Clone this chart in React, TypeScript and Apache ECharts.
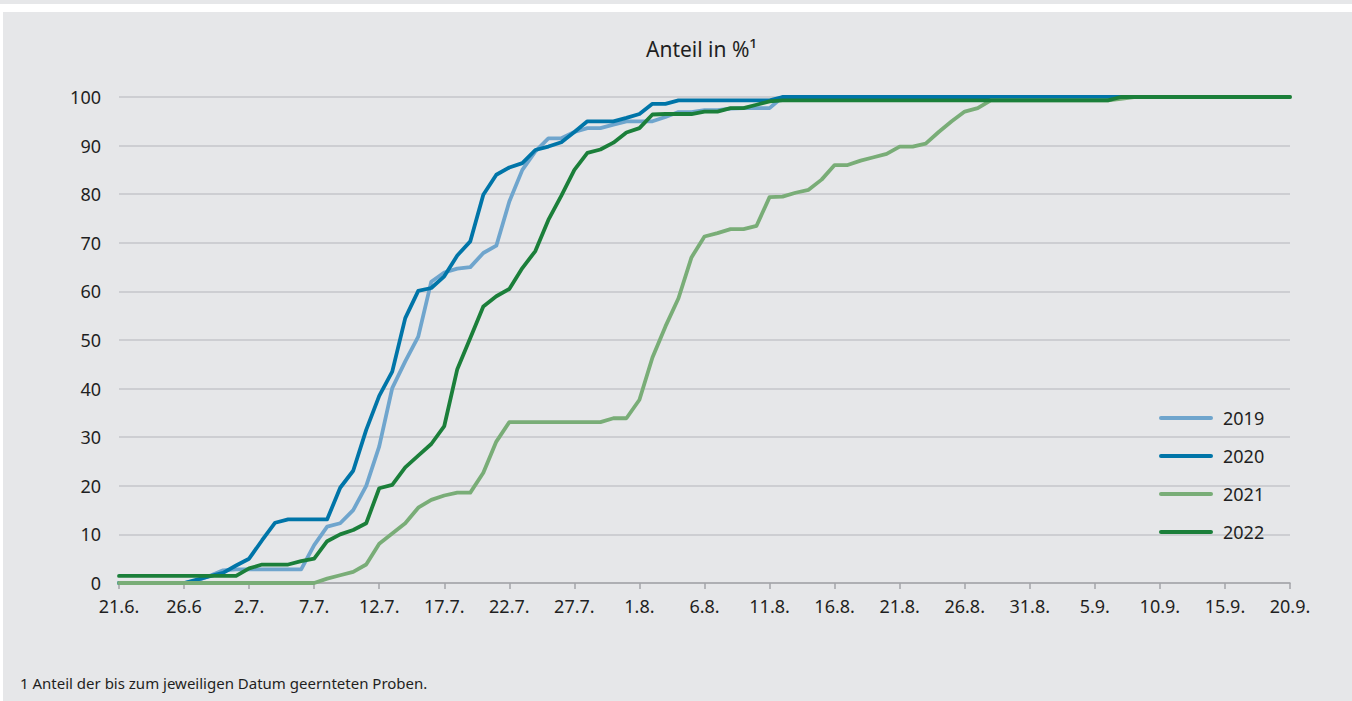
import React, { useEffect, useRef } from "react";
import * as echarts from "echarts";

const xTickLabels = [
  "21.6.", "26.6", "2.7.", "7.7.", "12.7.", "17.7.", "22.7.", "27.7.", "1.8.", "6.8.",
  "11.8.", "16.8.", "21.8.", "26.8.", "31.8.", "5.9.", "10.9.", "15.9.", "20.9.",
];

const seriesNames = ["2019", "2020", "2021", "2022"];

// daily values, index 0 = 21.6.
const y2019 = [
  0, 0, 0, 0, 0, 0, 0.5, 1.5, 2.6, 2.8,
  2.8, 2.8, 2.8, 2.8, 2.8, 7.8, 11.6, 12.3, 15.0, 20.0,
  28.1, 40.1, 45.6, 50.7, 62.0, 63.9, 64.7, 65.0, 67.9, 69.4,
  78.5, 85.0, 88.8, 91.5, 91.5, 92.8, 93.6, 93.6, 94.3, 95.0,
  95.0, 95.0, 95.9, 96.9, 96.9, 97.3, 97.3, 97.6, 97.7, 97.7,
  97.7, 100, 100, 100, 100, 100, 100, 100, 100, 100,
  100, 100, 100, 100, 100, 100, 100, 100, 100, 100,
  100, 100, 100, 100, 100, 100, 100, 100, 100, 100,
  100,
];

const y2020 = [
  0, 0, 0, 0, 0, 0, 0.7, 1.4, 2.1, 3.6,
  5.0, 8.8, 12.4, 13.1, 13.1, 13.1, 13.1, 19.6, 23.1, 31.5,
  38.5, 43.5, 54.5, 60.1, 60.7, 63.1, 67.4, 70.3, 79.9, 84.0,
  85.5, 86.4, 89.1, 89.8, 90.7, 92.8, 95.0, 95.0, 95.0, 95.7,
  96.5, 98.6, 98.6, 99.3, 99.3, 99.3, 99.3, 99.3, 99.3, 99.3,
  99.3, 100, 100, 100, 100, 100, 100, 100, 100, 100,
  100, 100, 100, 100, 100, 100, 100, 100, 100, 100,
  100, 100, 100, 100, 100, 100, 100, 100, 100, 100,
  100,
];

const y2021 = [
  0, 0, 0, 0, 0, 0, 0, 0, 0, 0,
  0, 0, 0, 0, 0, 0, 0.9, 1.6, 2.3, 3.8,
  8.1, 10.2, 12.3, 15.5, 17.1, 18.0, 18.6, 18.6, 22.7, 29.1,
  33.1, 33.1, 33.1, 33.1, 33.1, 33.1, 33.1, 33.1, 33.9, 33.9,
  37.7, 46.4, 52.8, 58.6, 67.0, 71.3, 72.0, 72.8, 72.8, 73.5,
  79.4, 79.5, 80.3, 80.9, 83.0, 86.0, 86.0, 86.9, 87.6, 88.3,
  89.8, 89.8, 90.4, 92.8, 95.0, 97.0, 97.7, 99.3, 99.3, 99.3,
  99.3, 99.3, 99.3, 99.3, 99.3, 99.3, 99.3, 99.6, 100, 100,
  100, 100, 100, 100, 100, 100, 100, 100, 100, 100,
  100,
];

const y2022 = [
  1.45, 1.45, 1.45, 1.45, 1.45, 1.45, 1.45, 1.45, 1.45, 1.45,
  3.0, 3.8, 3.8, 3.8, 4.5, 5.0, 8.6, 10.0, 10.9, 12.3,
  19.5, 20.2, 23.8, 26.2, 28.6, 32.3, 44.0, 50.4, 56.9, 59.0,
  60.5, 64.8, 68.3, 74.7, 79.7, 85.0, 88.5, 89.2, 90.6, 92.7,
  93.6, 96.4, 96.5, 96.5, 96.5, 97.0, 97.0, 97.7, 97.7, 98.4,
  99.1, 99.3, 99.3, 99.3, 99.3, 99.3, 99.3, 99.3, 99.3, 99.3,
  99.3, 99.3, 99.3, 99.3, 99.3, 99.3, 99.3, 99.3, 99.3, 99.3,
  99.3, 99.3, 99.3, 99.3, 99.3, 99.3, 99.3, 100, 100, 100,
  100, 100, 100, 100, 100, 100, 100, 100, 100, 100,
  100,
];

const seriesValues = [y2019, y2020, y2021, y2022];
const seriesColors = ["#6fa5cd", "#0075a8", "#79ad77", "#1b7f3a"];

const titleText = "Anteil in %\u00b9";
const footnoteText = "1 Anteil der bis zum jeweiligen Datum geernteten Proben.";

const FONT = "'Noto Sans', 'Open Sans', sans-serif";
const TEXT = "#1f1f22";
const PANEL = "#e6e7e9";

export default function App() {
  const ref = useRef<HTMLDivElement>(null);

  useEffect(() => {
    document.body.style.margin = "0";
    const chart = echarts.init(ref.current!, null, { renderer: "svg" });
    const legendIcon = "path://M2,0 L52,0 A2,2 0 0 1 52,4 L2,4 A2,2 0 0 1 2,0 Z";

    chart.setOption({
      animation: false,
      backgroundColor: PANEL,
      textStyle: { fontFamily: FONT },
      title: [
        {
          text: titleText,
          left: 646,
          top: 38,
          padding: 0,
          textStyle: { fontSize: 21, fontWeight: "normal", color: TEXT, fontFamily: FONT },
        },
        {
          text: footnoteText,
          left: 20,
          top: 675,
          padding: 0,
          textStyle: { fontSize: 15, fontWeight: "normal", color: TEXT, fontFamily: FONT },
        },
      ],
      graphic: [
        { type: "rect", shape: { x: 0, y: 4, width: 1352, height: 8 }, style: { fill: "#ffffff" }, silent: true },
        { type: "rect", shape: { x: 0, y: 4, width: 3, height: 697 }, style: { fill: "#ffffff" }, silent: true },
      ],
      legend: {
        orient: "vertical",
        left: 1159,
        top: 408,
        padding: 0,
        itemWidth: 54,
        itemHeight: 4,
        itemGap: 18,
        icon: legendIcon,
        data: seriesNames,
        textStyle: {
          fontSize: 18,
          lineHeight: 20,
          color: TEXT,
          fontFamily: FONT,
          padding: [0, 0, 0, 5],
        },
      },
      grid: { left: 119, right: 62, top: 97, bottom: 118, containLabel: false },
      xAxis: {
        type: "value",
        min: 0,
        max: 90,
        interval: 5,
        axisLine: { show: true, lineStyle: { color: "#a3a4a8", width: 1.5 } },
        axisTick: { show: true, length: 6, lineStyle: { color: "#a3a4a8", width: 1.5 } },
        splitLine: { show: false },
        axisLabel: {
          margin: 14,
          fontSize: 18,
          color: TEXT,
          fontFamily: FONT,
          formatter: (v: number) => xTickLabels[Math.round(v / 5)] ?? "",
        },
      },
      yAxis: {
        type: "value",
        min: 0,
        max: 100,
        interval: 10,
        axisLine: { show: false },
        axisTick: { show: false },
        splitLine: { lineStyle: { color: "#c5c6ca", width: 1.5 } },
        axisLabel: { margin: 18, fontSize: 18, color: TEXT, fontFamily: FONT },
      },
      series: seriesNames.map((name, k) => ({
        name,
        type: "line",
        data: seriesValues[k].map((v, i) => [i, v]),
        color: seriesColors[k],
        symbol: "none",
        showSymbol: false,
        lineStyle: { width: 3.8, color: seriesColors[k], cap: "round", join: "round" },
        itemStyle: { color: seriesColors[k] },
        emphasis: { disabled: true },
      })),
    });

    return () => chart.dispose();
  }, []);

  return <div ref={ref} style={{ width: 1352, height: 701 }} />;
}
